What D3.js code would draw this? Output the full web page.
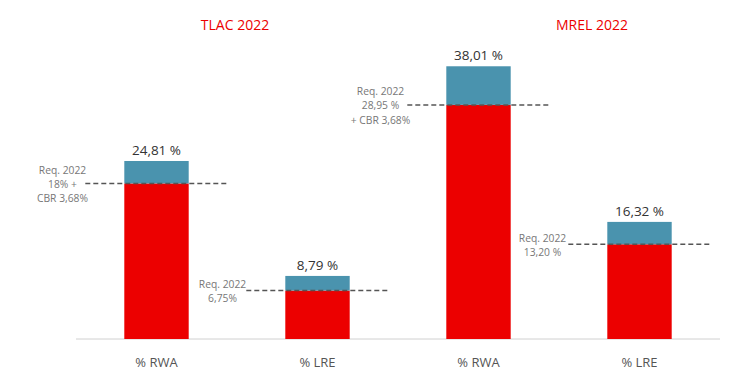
<!DOCTYPE html>
<html><head><meta charset="utf-8">
<script src="https://cdn.jsdelivr.net/npm/d3@7"></script>
<style>body{margin:0;background:#fff;}svg{display:block;font-family:"Open Sans",sans-serif;}</style>
</head><body>
<svg id="c" width="732" height="384"></svg>
<script>
const categories = ["% RWA", "% LRE", "% RWA", "% LRE"];
const totals = [24.81, 8.79, 38.01, 16.32];
const requirements = [21.68, 6.75, 32.63, 13.20];
const totalLabels = ["24,81 %", "8,79 %", "38,01 %", "16,32 %"];
const reqLabels = [
  ["Req. 2022", "18% +", "CBR 3,68%"],
  ["Req. 2022", "6,75%"],
  ["Req. 2022", "28,95 %", "+ CBR 3,68%"],
  ["Req. 2022", "13,20 %"]
];
const groups = ["TLAC 2022", "MREL 2022"];

const svg = d3.select("#c");
const x = d3.scaleBand().domain(d3.range(categories.length)).range([76, 720]).paddingInner(0.6).paddingOuter(0.3);
const y = d3.scaleLinear().domain([0, 40]).range([339, 52]);
const bw = x.bandwidth();
const RED = "#ec0000", BLUE = "#4a93ae";

// axis line
svg.append("line").attr("x1", 76).attr("x2", 720).attr("y1", y(0)).attr("y2", y(0))
  .attr("stroke", "#d0d0d0").attr("stroke-width", 1);

const g = svg.append("g");
// red (requirement)
g.selectAll("rect.red").data(requirements).join("rect")
  .attr("x", (d, i) => x(i)).attr("width", bw)
  .attr("y", d => y(d)).attr("height", d => y(0) - y(d)).attr("fill", RED);
// blue (excess)
g.selectAll("rect.blue").data(totals).join("rect")
  .attr("x", (d, i) => x(i)).attr("width", bw)
  .attr("y", d => y(d)).attr("height", (d, i) => y(requirements[i]) - y(d)).attr("fill", BLUE);

// dashed requirement lines
g.selectAll("line.req").data(requirements).join("line")
  .attr("x1", (d, i) => x(i) - 39).attr("x2", (d, i) => x(i) + bw + 38)
  .attr("y1", d => y(d)).attr("y2", d => y(d))
  .attr("stroke", "#555").attr("stroke-width", 1.5).attr("stroke-dasharray", "5,3");

// value labels
g.selectAll("text.val").data(totalLabels).join("text")
  .attr("x", (d, i) => x(i) + bw / 2).attr("y", (d, i) => y(totals[i]) - 6)
  .attr("text-anchor", "middle").attr("font-size", 13.5).attr("fill", "#333").text(d => d);

// requirement labels
const offs = [94, 95, 98, 97];
reqLabels.forEach((lines, i) => {
  const cx = x(i) + bw / 2 - offs[i];
  const lh = 14.2;
  const y0 = y(requirements[i]) - (lines.length - 1) * lh / 2 + 1;
  const t = g.append("text").attr("text-anchor", "middle").attr("font-size", 10.3).attr("fill", "#777");
  lines.forEach((l, j) => t.append("tspan").attr("x", cx).attr("y", y0 + j * lh).attr("dy", "0.35em").text(l));
});

// category labels
g.selectAll("text.cat").data(categories).join("text")
  .attr("x", (d, i) => x(i) + bw / 2).attr("y", 367)
  .attr("text-anchor", "middle").attr("font-size", 13).attr("fill", "#555").text(d => d);

// group titles
const gx = [235, 592];
g.selectAll("text.grp").data(groups).join("text")
  .attr("x", (d, i) => gx[i]).attr("y", 30)
  .attr("text-anchor", "middle").attr("font-size", 14).attr("fill", RED).text(d => d);
</script>
</body></html>
